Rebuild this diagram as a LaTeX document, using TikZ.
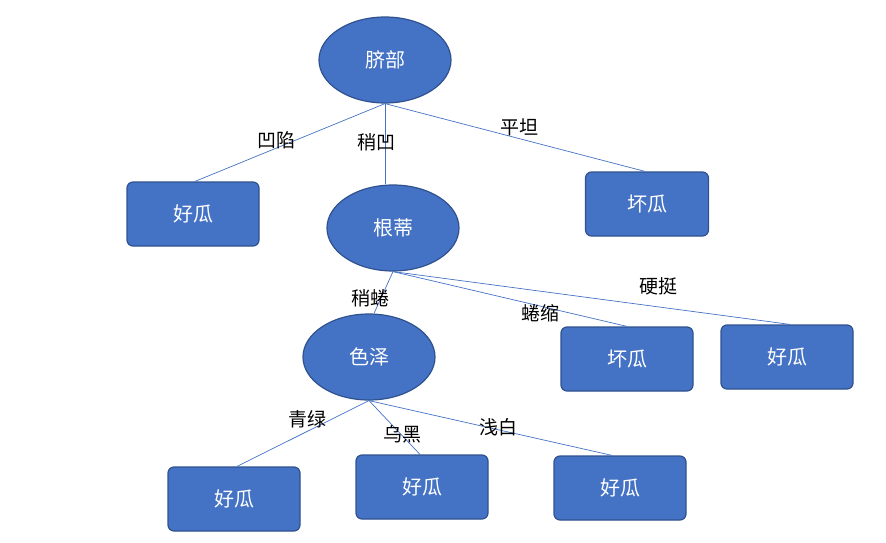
\documentclass[tikz,border=0pt]{standalone}
\usepackage{fontspec}
\setmainfont{Noto Sans CJK SC}
\usetikzlibrary{shapes.geometric}
\begin{document}
\begin{tikzpicture}[x=1pt,y=-1pt,
 ell/.style={ellipse,fill=blue0,draw=border0,line width=1.2pt,minimum width=132pt,minimum height=86pt,text=white,font=\fontsize{20}{24}\selectfont},
 box/.style={rectangle,rounded corners=6pt,fill=blue0,draw=border0,line width=1.2pt,minimum width=132pt,minimum height=64pt,text=white,font=\fontsize{20}{24}\selectfont},
 edge/.style={draw=blue0,line width=0.7pt},
 lab/.style={font=\fontsize{19}{22}\selectfont,text=black}]
\definecolor{blue0}{HTML}{4472C4}
\definecolor{border0}{HTML}{2F528F}
\path[use as bounding box] (0,0) rectangle (886,543);
\node[ell] (qb) at (385,60) {脐部};
\node[ell] (gd) at (393,228) {根蒂};
\node[ell] (sz) at (369,357) {色泽};
\node[box] (b1) at (193,214) {好瓜};
\node[box,minimum width=123pt] (b2) at (647,204) {坏瓜};
\node[box] (b3) at (627,359) {坏瓜};
\node[box] (b4) at (787,357) {好瓜};
\node[box] (b5) at (234,499) {好瓜};
\node[box] (b6) at (422,487) {好瓜};
\node[box] (b7) at (620,488) {好瓜};
\draw[edge] (qb.south) -- ([xshift=2pt]b1.north);
\draw[edge] (qb.south) -- (gd.north -| qb.south);
\draw[edge] (qb.south) -- ([xshift=-2pt]b2.north);
\draw[edge] (gd.south) -- ([xshift=5pt]sz.north);
\draw[edge] (gd.south) -- (b3.north);
\draw[edge] (gd.south) -- ([xshift=3pt]b4.north);
\draw[edge] (sz.south) -- ([xshift=3pt]b5.north);
\draw[edge] (sz.south) -- ([xshift=-2pt]b6.north);
\draw[edge] (sz.south) -- ([xshift=-8pt]b7.north);
\node[lab] (l1) at (276,140) {凹陷};
\node[lab] (l2) at (376,142) {稍凹};
\node[lab] (l3) at (519,127) {平坦};
\node[lab] (l4) at (370,298) {稍蜷};
\node[lab] (l5) at (540,313) {蜷缩};
\node[lab] (l6) at (658,286) {硬挺};
\node[lab] (l7) at (307,419) {青绿};
\node[lab] (l8) at (402,434) {乌黑};
\node[lab] (l9) at (498,427) {浅白};
\end{tikzpicture}
\end{document}
